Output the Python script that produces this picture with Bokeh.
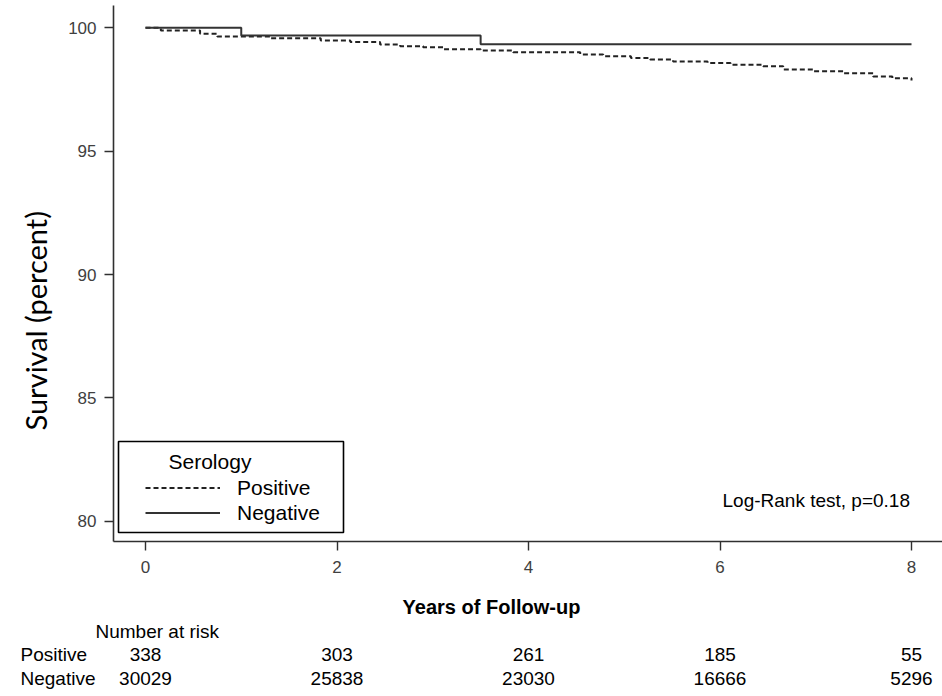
import math
from bokeh.plotting import figure
from bokeh.models import Range1d, FixedTicker, Label, Legend, LegendItem, BoxAnnotation, Title
from bokeh.layouts import column
from bokeh.core.properties import value
from bokeh.embed import file_html
from bokeh.resources import INLINE

# ---------------- data ----------------
pos_time = [0, 0.16, 0.57, 0.75, 1.31, 1.83, 2.14, 2.45, 2.66, 2.90, 3.11, 3.50, 3.84,
            4.54, 4.78, 5.07, 5.27, 5.51, 5.87, 6.11, 6.45, 6.66, 6.98, 7.29, 7.60, 7.80, 8.0]
pos_surv = [100, 99.89, 99.76, 99.65, 99.58, 99.49, 99.42, 99.32, 99.25, 99.21, 99.13, 99.08, 99.01,
            98.92, 98.85, 98.78, 98.72, 98.63, 98.57, 98.50, 98.44, 98.31, 98.24, 98.16, 98.03, 97.95, 97.86]
neg_time = [0, 1.0, 3.5, 8.0]
neg_surv = [100, 99.69, 99.33, 99.33]

x_ticks = [0, 2, 4, 6, 8]
y_ticks = [80, 85, 90, 95, 100]

risk_times = [0, 2, 4, 6, 8]
risk_positive = [338, 303, 261, 185, 55]
risk_negative = [30029, 25838, 23030, 16666, 5296]
group_names = ["Positive", "Negative"]

# ---------------- layout helpers (pixel -> data for annotation placement) ----------------
X0, XS = 145.0, 95.75
Y0, YS = 27.3, 24.67
def dx(px):
    return (px - X0) / XS
def dy(py):
    return 100 - (py - Y0) / YS

FONTNAME = "Liberation Sans"
FONT = value(FONTNAME)
INK = "#303030"

H1 = 580
p = figure(width=942, height=H1, output_backend="svg", toolbar_location=None,
           x_range=Range1d(dx(113), dx(942)), y_range=Range1d(dy(541), dy(5)),
           min_border_left=113, min_border_right=0, min_border_top=5, min_border_bottom=H1 - 541)
p.frame_align = False
p.outline_line_color = None
p.grid.visible = False
p.background_fill_color = "white"
p.border_fill_color = "white"

for ax in (p.xaxis[0], p.yaxis[0]):
    ax.axis_line_color = INK
    ax.axis_line_width = 1.6
    ax.major_tick_line_color = INK
    ax.major_tick_line_width = 1.4
    ax.major_tick_out = 9
    ax.major_tick_in = 0
    ax.minor_tick_line_color = None
    ax.major_label_text_font = FONTNAME
    ax.major_label_text_font_size = "17px"
    ax.major_label_text_color = "#404040"

p.xaxis[0].ticker = FixedTicker(ticks=x_ticks)
p.yaxis[0].ticker = FixedTicker(ticks=y_ticks)
p.xaxis[0].major_label_standoff = 10
p.yaxis[0].major_label_standoff = 8

r_pos = p.step(pos_time, pos_surv, mode="after", line_color="#222222", line_width=2,
               line_dash="5 3")
r_neg = p.step(neg_time, neg_surv, mode="after", line_color="#333333", line_width=2)

# y axis title
p.add_layout(Title(text="Survival (percent)", align="left", offset=111, standoff=25,
                   text_font="Lato", text_font_size="29px", text_font_style="normal",
                   text_color="black"), "left")

# legend frame
box = BoxAnnotation(left=dx(118), right=dx(343), top=dy(441), bottom=dy(532),
                    fill_color="white", fill_alpha=1.0, line_color="black", line_alpha=1.0,
                    line_width=1.6)
p.add_layout(box)
p.add_layout(Label(x=dx(168), y=dy(461), text="Serology", text_font=FONTNAME,
                   text_font_size="21px", text_baseline="middle", text_color="black"))
legend = Legend(items=[LegendItem(label=group_names[0], renderers=[r_pos]),
                       LegendItem(label=group_names[1], renderers=[r_neg])],
                location=(145 - 113, 541 - 525), glyph_width=75, glyph_height=25,
                label_height=25, label_standoff=17, padding=0, spacing=0, margin=0,
                border_line_color=None, background_fill_alpha=0,
                label_text_font=FONTNAME, label_text_font_size="21px",
                label_text_color="black")
p.add_layout(legend)

p.add_layout(Label(x=dx(722), y=dy(500), text="Log-Rank test, p=0.18", text_font=FONTNAME,
                   text_font_size="19px", text_baseline="middle", text_color="black"))

# ---------------- risk table ----------------
H2 = 696 - H1
TOP = H1
def ry(py):
    # rows: Negative=0, Positive=1, header=2, title=3 ; 23.67 px per row
    return (TOP + 98 - py) / 23.67

t = figure(width=942, height=H2, output_backend="svg", toolbar_location=None,
           x_range=Range1d(dx(0), dx(942)), y_range=Range1d(ry(TOP + H2), ry(TOP)),
           min_border=0, x_axis_type=None, y_axis_type=None)
t.frame_align = False
t.outline_line_color = None
t.grid.visible = False

t.text(x=[dx(491)], y=[3], text=["Years of Follow-up"], text_align="center",
       text_baseline="middle", text_font=FONT, text_font_size="20px",
       text_font_style="bold", text_color="black")
t.text(x=[dx(95)], y=[2], text=["Number at risk"], text_align="left",
       text_baseline="middle", text_font=FONT, text_font_size="19px", text_color="black")
t.text(x=[dx(20), dx(20)], y=[1, 0], text=group_names, text_align="left",
       text_baseline="middle", text_font=FONT, text_font_size="19px", text_color="black")
t.text(x=risk_times, y=[1] * len(risk_times), text=[str(v) for v in risk_positive],
       text_align="center", text_baseline="middle", text_font=FONT,
       text_font_size="19px", text_color="black")
t.text(x=risk_times, y=[0] * len(risk_times), text=[str(v) for v in risk_negative],
       text_align="center", text_baseline="middle", text_font=FONT,
       text_font_size="19px", text_color="black")

layout = column(p, t, spacing=0)
open("out.html", "w").write(file_html(layout, INLINE))
